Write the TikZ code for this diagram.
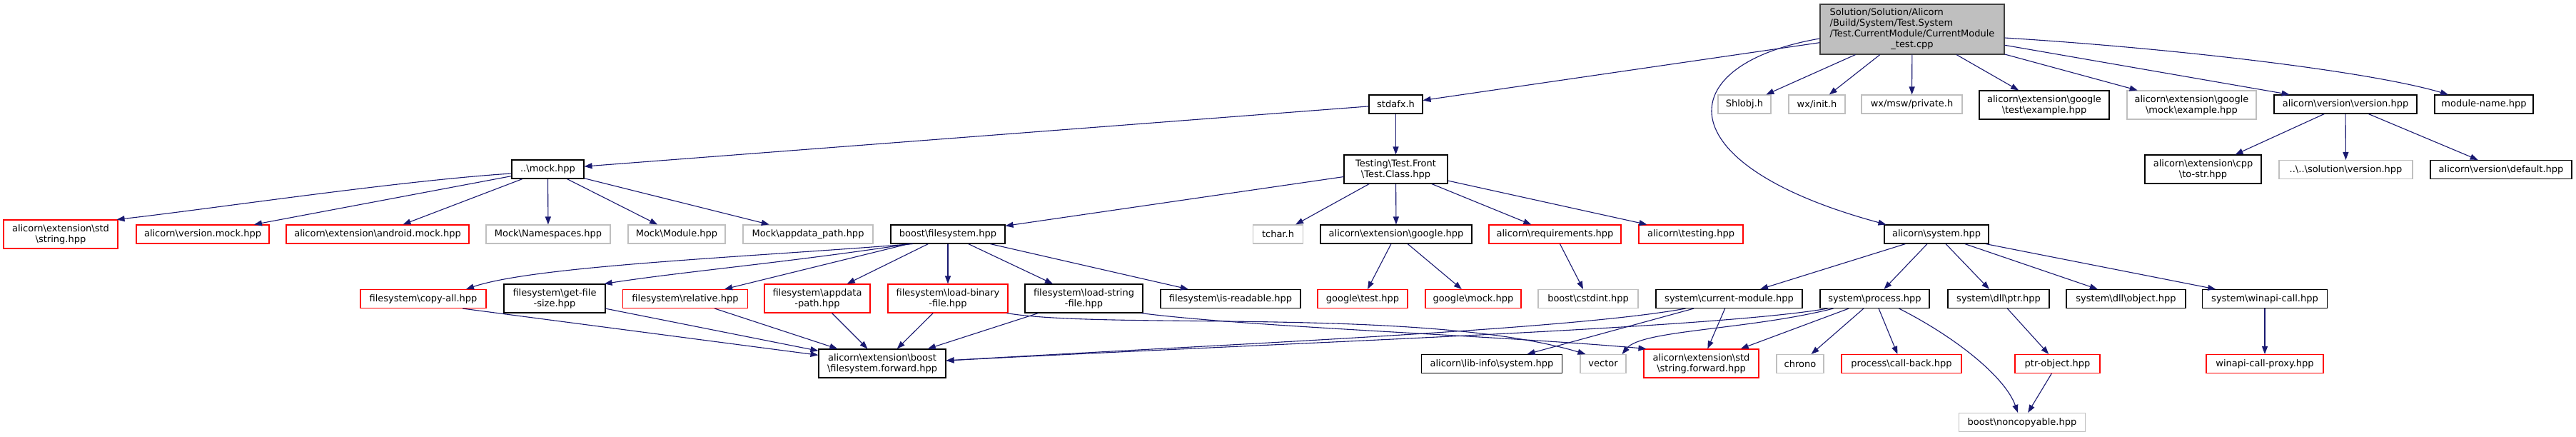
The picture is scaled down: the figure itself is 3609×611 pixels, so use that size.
\documentclass[tikz,border=0pt]{standalone}
\usepackage{fontspec}
\setmainfont{DejaVu Sans}
\usetikzlibrary{arrows.meta}
\definecolor{edgec}{HTML}{191970}
\definecolor{grayb}{HTML}{BFBFBF}
\newcommand{\BS}{\textbackslash{}}
\begin{document}
\begin{tikzpicture}[x=1pt,y=-1pt,
 nbase/.style={rectangle, inner sep=0pt, align=center, font=\fontsize{13}{15}\selectfont, minimum height=26pt, line width=1.1pt},
 blk/.style={nbase, draw=black},
 rd/.style={nbase, draw=red},
 gry/.style={nbase, draw=grayb},
 rootn/.style={nbase, draw=black!75, fill=grayb, minimum height=70pt},
 tall/.style={minimum height=40pt},
 bw/.style={minimum width=#1pt},
 inc/.style={draw=edgec, line width=1.1pt, -{Triangle[length=11pt,width=8pt]}}]
\useasboundingbox (0,0) rectangle (3609,611);
% row A
\node[rootn,bw=258] (root) at (2679,41) {\begin{tabular}{@{}l@{}}Solution/Solution/Alicorn\\/Build/System/Test.System\\/Test.CurrentModule/CurrentModule\\\multicolumn{1}{@{}c@{}}{\_test.cpp}\end{tabular}};
% row B
\node[blk,bw=75] (stdafx) at (1955.5,146) {stdafx.h};
\node[gry,bw=74] (shlobj) at (2444,146) {Shlobj.h};
\node[gry,bw=79] (wxinit) at (2545.5,146) {wx/init.h};
\node[gry,bw=141] (wxmsw) at (2678.5,146) {wx/msw/private.h};
\node[blk,tall,bw=182] (gtestex) at (2864,147) {alicorn\BS extension\BS google\\\BS test\BS example.hpp};
\node[gry,tall,bw=181] (gmockex) at (3070.5,147) {alicorn\BS extension\BS google\\\BS mock\BS example.hpp};
\node[blk,bw=200] (verver) at (3286,146) {alicorn\BS version\BS version.hpp};
\node[blk,bw=138] (modname) at (3480,146) {module-name.hpp};
% row C
\node[blk,bw=101] (mock) at (767.5,237) {..\BS mock.hpp};
\node[blk,tall,bw=145] (tclass) at (1955.5,237) {Testing\BS Test.Front\\\BS Test.Class.hpp};
\node[blk,tall,bw=163] (tostr) at (3086.5,237) {alicorn\BS extension\BS cpp\\\BS to-str.hpp};
\node[gry,bw=187] (solver) at (3286.5,237.5) {..\BS ..\BS solution\BS version.hpp};
\node[blk,bw=198] (verdef) at (3504,237.5) {alicorn\BS version\BS default.hpp};
% row D
\node[rd,tall,bw=160] (stdstring) at (85,328) {alicorn\BS extension\BS std\\\BS string.hpp};
\node[rd,bw=186] (vermock) at (284,328) {alicorn\BS version.mock.hpp};
\node[rd,bw=256] (andmock) at (529,328) {alicorn\BS extension\BS android.mock.hpp};
\node[gry,bw=174] (mockns) at (768,328) {Mock\BS Namespaces.hpp};
\node[gry,bw=136] (mockmod) at (948,328) {Mock\BS Module.hpp};
\node[gry,bw=182] (mockapp) at (1132,328) {Mock\BS appdata\_path.hpp};
\node[blk,bw=160] (bfs) at (1328,328) {boost\BS filesystem.hpp};
\node[gry,bw=70] (tchar) at (1790.5,328) {tchar.h};
\node[blk,bw=212] (google) at (1956,328) {alicorn\BS extension\BS google.hpp};
\node[rd,bw=185] (req) at (2178.5,328) {alicorn\BS requirements.hpp};
\node[rd,bw=146] (testing) at (2369,328) {alicorn\BS testing.hpp};
\node[blk,bw=146] (alsys) at (2713,328) {alicorn\BS system.hpp};
% row E
\node[rd,bw=176] (copyall) at (593,418.5) {filesystem\BS copy-all.hpp};
\node[blk,tall,bw=142] (getfile) at (777,418) {filesystem\BS get-file\\-size.hpp};
\node[rd,bw=175] (relative) at (960,418.5) {filesystem\BS relative.hpp};
\node[rd,tall,bw=148] (appdata) at (1145,418) {filesystem\BS appdata\\-path.hpp};
\node[rd,tall,bw=168] (loadbin) at (1328,418) {filesystem\BS load-binary\\-file.hpp};
\node[blk,tall,bw=165] (loadstr) at (1518.5,418) {filesystem\BS load-string\\-file.hpp};
\node[blk,bw=196] (isread) at (1724,418.5) {filesystem\BS is-readable.hpp};
\node[rd,bw=126] (gtest) at (1909,418.5) {google\BS test.hpp};
\node[rd,bw=134] (gmock) at (2064,418.5) {google\BS mock.hpp};
\node[gry,bw=140] (cstdint) at (2225,418.5) {boost\BS cstdint.hpp};
\node[blk,bw=205] (curmod) at (2422.5,418.5) {system\BS current-module.hpp};
\node[blk,bw=153] (process) at (2626.5,418.5) {system\BS process.hpp};
\node[blk,bw=142] (dllptr) at (2800,418.5) {system\BS dll\BS ptr.hpp};
\node[blk,bw=167] (dllobj) at (2978.5,418.5) {system\BS dll\BS object.hpp};
\node[blk,bw=175] (winapi) at (3173,418.5) {system\BS winapi-call.hpp};
% row F
\node[blk,tall,bw=178] (fwd) at (1236,509) {alicorn\BS extension\BS boost\\\BS filesystem.forward.hpp};
\node[blk,bw=197] (libinfo) at (2090,509.5) {alicorn\BS lib-info\BS system.hpp};
\node[gry,bw=64] (vector) at (2246,509.5) {vector};
\node[rd,tall,bw=161] (strfwd) at (2383.5,509) {alicorn\BS extension\BS std\\\BS string.forward.hpp};
\node[gry,bw=66] (chrono) at (2522,509.5) {chrono};
\node[rd,bw=168] (callback) at (2664,509.5) {process\BS call-back.hpp};
\node[rd,bw=119] (ptrobj) at (2882.5,509.5) {ptr-object.hpp};
\node[rd,bw=164] (proxy) at (3173,509.5) {winapi-call-proxy.hpp};
% row G
\node[gry,bw=177] (noncopy) at (2833,591.5) {boost\BS noncopyable.hpp};
% edges from root
\draw[inc] (root) -- (stdafx);
\draw[inc] ([yshift=-13pt]root.west) .. controls (2340,90) and (2330,230) .. ([xshift=3pt]alsys.north west);
\draw[inc] (root) -- (shlobj);
\draw[inc] (root) -- (wxinit);
\draw[inc] (root) -- (wxmsw);
\draw[inc] (root) -- (gtestex);
\draw[inc] (root) -- (gmockex);
\draw[inc] (root) -- (verver);
\draw[inc] ([yshift=-12pt]root.east) .. controls (3050,68) and (3320,100) .. ([xshift=-50pt]modname.north);
% stdafx
\draw[inc] (stdafx) -- (mock);
\draw[inc] (stdafx) -- (tclass);
% mock
\draw[inc] ([yshift=-6pt]mock.west) .. controls (560,253) and (300,292) .. ([xshift=-2pt]stdstring.north east);
\draw[inc] (mock) -- (vermock);
\draw[inc] (mock) -- (andmock);
\draw[inc] (mock) -- (mockns);
\draw[inc] (mock) -- (mockmod);
\draw[inc] (mock) -- (mockapp);
% Test.Class
\draw[inc] (tclass) -- (bfs);
\draw[inc] (tclass) -- (tchar);
\draw[inc] (tclass) -- (google);
\draw[inc] (tclass) -- (req);
\draw[inc] (tclass) -- (testing);
% boost filesystem
\draw[inc] ([xshift=-49pt]bfs.south) .. controls (1050,360) and (750,372) .. ([xshift=60pt]copyall.north);
\draw[inc] ([xshift=-53pt]bfs.south) .. controls (1100,368) and (960,380) .. ([xshift=-2pt]getfile.north east);
\draw[inc] (bfs) -- (relative);
\draw[inc] (bfs) -- (appdata);
\draw[inc] (bfs) -- (loadbin);
\draw[inc] (bfs) -- (loadstr);
\draw[inc] (bfs) -- (isread);
% google, requirements
\draw[inc] (google) -- (gtest);
\draw[inc] (google) -- (gmock);
\draw[inc] (req) -- (cstdint);
% alicorn system
\draw[inc] (alsys) -- (curmod);
\draw[inc] (alsys) -- (process);
\draw[inc] (alsys) -- (dllptr);
\draw[inc] (alsys) -- (dllobj);
\draw[inc] (alsys) -- (winapi);
% version
\draw[inc] (verver) -- (tostr);
\draw[inc] (verver) -- (solver);
\draw[inc] (verver) -- (verdef);
% into filesystem.forward
\draw[inc] ([xshift=55pt]copyall.south) -- (fwd);
\draw[inc] (getfile) -- (fwd);
\draw[inc] (relative) -- (fwd);
\draw[inc] (appdata) -- (fwd);
\draw[inc] (loadbin) -- (fwd);
\draw[inc] (loadstr) -- (fwd);
\draw[inc] ([xshift=-2pt]loadbin.south east) .. controls (1550,462) and (2000,430) .. ([xshift=8pt]vector.north west);
\draw[inc] ([xshift=-3pt]loadstr.south east) .. controls (1750,458) and (2100,470) .. ([xshift=4pt]strfwd.north west);
% current-module
\draw[inc] ([xshift=-61pt]curmod.south) .. controls (2200,462) and (1700,483) .. ([yshift=4pt]fwd.east);
\draw[inc] (curmod) -- (libinfo);
\draw[inc] (curmod) -- (strfwd);
% process
\draw[inc] ([xshift=-66pt]process.south) .. controls (2400,460) and (1800,480) .. ([yshift=4pt]fwd.east);
\draw[inc] ([xshift=-58pt]process.south) .. controls (2450,462) and (2300,462) .. ([xshift=-6pt]vector.north east);
\draw[inc] (process) -- (strfwd);
\draw[inc] (process) -- (chrono);
\draw[inc] (process) -- (callback);
\draw[inc] ([xshift=34pt]process.south) .. controls (2745,475) and (2810,530) .. ([xshift=-6pt]noncopy.north);
% lower
\draw[inc] (dllptr) -- (ptrobj);
\draw[inc] (ptrobj) -- (noncopy);
\draw[inc] (winapi) -- (proxy);
\end{tikzpicture}
\end{document}
